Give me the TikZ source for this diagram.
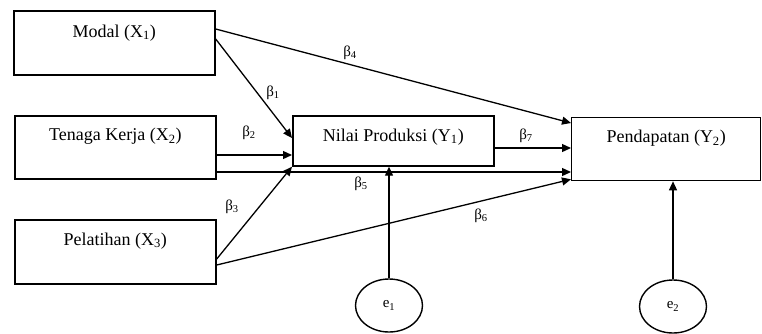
\documentclass[tikz,border=0pt]{standalone}
\usepackage{fontspec}
\setmainfont{Liberation Serif}
\usetikzlibrary{arrows.meta,shapes.geometric}
\begin{document}
\begin{tikzpicture}[x=1pt,y=-1pt,
  box/.style={draw, line width=1.7pt, anchor=north west, inner sep=0pt},
  lbl/.style={font=\fontsize{18}{20}\selectfont, inner sep=0pt},
  beta/.style={font=\fontsize{15}{17}\selectfont, inner sep=0pt},
  err/.style={draw, ellipse, line width=1.4pt, minimum width=67pt, minimum height=53pt, inner sep=0pt, font=\fontsize{15}{17}\selectfont},
  arr/.style={line width=1.3pt, -{Triangle[length=9pt,width=8pt]}}]
\useasboundingbox (0,0) rectangle (762,333);
% boxes
\node[box, minimum width=201pt, minimum height=64pt,
  label={[lbl,yshift=10pt]center:Modal (X\textsubscript{1})}] (modal) at (13,10) {};
\node[box, minimum width=201pt, minimum height=63pt,
  label={[lbl,yshift=11pt]center:Tenaga Kerja (X\textsubscript{2})}] (tenaga) at (14,115) {};
\node[box, minimum width=201pt, minimum height=64pt,
  label={[lbl,yshift=11pt]center:Pelatihan (X\textsubscript{3})}] (pel) at (14,219) {};
\node[box, minimum width=201pt, minimum height=50pt,
  label={[lbl,yshift=4pt]center:Nilai Produksi (Y\textsubscript{1})}] (nilai) at (292,115) {};
\node[box, line width=1.3pt, minimum width=189pt, minimum height=63pt,
  label={[lbl,yshift=11pt]center:Pendapatan (Y\textsubscript{2})}] (pend) at (571,117) {};
% error terms
\node[err] (e1) at (389,305.5) {e\textsubscript{1}};
\node[err] (e2) at (673,306.5) {e\textsubscript{2}};
% connectors
\draw[arr] ([yshift=-29pt]modal.north east) -- ([yshift=-23pt]nilai.north west);
\draw[arr] ([yshift=-19pt]modal.north east) -- ([yshift=-6pt]pend.north west);
\draw[arr] ([yshift=-40pt]tenaga.north east) -- ([yshift=-40pt]nilai.north west);
\draw[arr] ([yshift=-57pt]tenaga.north east) -- ([yshift=-55pt]pend.north west);
\draw[arr] ([yshift=-40pt]pel.north east) -- (nilai.south west);
\draw[arr] ([yshift=-46pt]pel.north east) -- ([yshift=2pt]pend.south west);
\draw[arr] ([yshift=-33pt]nilai.north east) -- ([yshift=-31pt]pend.north west);
\draw[arr] (e1.north) -- (e1.north |- nilai.south);
\draw[arr] (e2.north) -- (e2.north |- pend.south);
% labels
\node[beta] (b1) at (273,93) {β\textsubscript{1}};
\node[beta] (b2) at (249,133) {β\textsubscript{2}};
\node[beta] (b3) at (232,207) {β\textsubscript{3}};
\node[beta] (b4) at (350,53) {β\textsubscript{4}};
\node[beta] (b5) at (361,184) {β\textsubscript{5}};
\node[beta] (b6) at (481,216) {β\textsubscript{6}};
\node[beta] (b7) at (526,136) {β\textsubscript{7}};
\end{tikzpicture}
\end{document}
